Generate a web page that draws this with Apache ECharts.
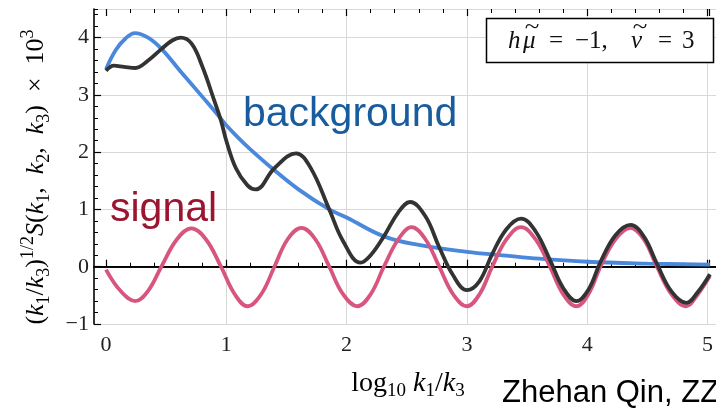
<!DOCTYPE html>
<html>
  <head>
    <meta charset="utf-8" />
    <title>signal vs background</title>
    <script src="https://cdn.jsdelivr.net/npm/echarts@6/dist/echarts.min.js"></script>
    <style>
      * {
        margin: 0;
        padding: 0;
        box-sizing: border-box;
      }
      body {
        background: #fff;
      }
    </style>
  </head>
  <body>
    <div id="main" style="width: 716px; height: 412px"></div>
    <script type="text/javascript">
      // [log10 k1/k3, value x 10^3]
      const backgroundPts = [
        [0, 3.45], [0.08, 3.78], [0.16, 3.98], [0.24, 4.08], [0.35, 4.0],
        [0.463, 3.8], [0.62, 3.41], [0.8, 2.97], [0.93, 2.65], [1.0, 2.47],
        [1.1, 2.25], [1.2, 2.05], [1.38, 1.72], [1.6, 1.35], [1.856, 1.0],
        [2.0, 0.86], [2.31, 0.53], [2.6, 0.38], [3.0, 0.26], [3.3, 0.2],
        [3.6, 0.14], [4.0, 0.087], [4.5, 0.055], [5.02, 0.035],
      ];
      const signalPts = [
        [0, -0.05], [0.12, -0.42], [0.244, -0.6], [0.35, -0.42], [0.46, 0],
        [0.59, 0.48], [0.71, 0.67], [0.83, 0.48], [0.956, 0], [1.07, -0.48],
        [1.176, -0.69], [1.29, -0.48], [1.4, 0], [1.51, 0.48], [1.625, 0.68],
        [1.74, 0.48], [1.856, 0], [1.97, -0.48], [2.09, -0.69], [2.2, -0.48],
        [2.31, 0], [2.43, 0.48], [2.54, 0.69], [2.655, 0.48], [2.77, 0],
        [2.885, -0.48], [3.0, -0.69], [3.105, -0.48], [3.21, 0], [3.33, 0.48],
        [3.45, 0.69], [3.57, 0.48], [3.69, 0], [3.8, -0.48], [3.91, -0.69],
        [4.01, -0.48], [4.11, 0], [4.235, 0.48], [4.36, 0.68], [4.47, 0.48],
        [4.58, 0], [4.7, -0.48], [4.82, -0.69], [4.92, -0.48], [5.02, -0.16],
      ];
      const totalPts = [
        [0, 3.42], [0.066, 3.51], [0.15, 3.49], [0.244, 3.47], [0.35, 3.6],
        [0.46, 3.8], [0.55, 3.95], [0.62, 4.0], [0.71, 3.9], [0.8, 3.5],
        [0.9, 2.9], [0.956, 2.55], [1.0, 2.2], [1.08, 1.72], [1.176, 1.42],
        [1.244, 1.35], [1.4, 1.72], [1.58, 1.98], [1.7, 1.73], [1.856, 1.0],
        [1.97, 0.45], [2.116, 0.07], [2.2, 0.2], [2.31, 0.53], [2.43, 0.95],
        [2.527, 1.13], [2.655, 0.88], [2.77, 0.34], [2.885, -0.15], [3.0, -0.41],
        [3.105, -0.25], [3.21, 0.22], [3.33, 0.66], [3.45, 0.84], [3.57, 0.62],
        [3.69, 0.12], [3.8, -0.37], [3.91, -0.6], [4.01, -0.4], [4.11, 0.08],
        [4.235, 0.55], [4.36, 0.73], [4.47, 0.53], [4.58, 0.05], [4.7, -0.43],
        [4.825, -0.63], [4.92, -0.44], [5.02, -0.13],
      ];
      const zeroLine = [[0, 0], [1, 0]];

      const serif = "Liberation Serif";
      const sans = "Liberation Sans";

      var myChart = echarts.init(document.getElementById("main"));

      const frameAxis = (pos) => ({
        type: "value",
        gridIndex: 0,
        position: pos,
        min: 0,
        max: 1,
        axisLine: { show: true, lineStyle: { color: "#000", width: 1.6 } },
        axisTick: { show: false },
        axisLabel: { show: false },
        splitLine: { show: false },
      });

      const tickAxis = (pos, labels) => ({
        type: "value",
        gridIndex: 1,
        position: pos,
        min: 0,
        max: 5.015,
        interval: 1,
        axisLine: { show: false },
        axisTick: {
          show: true,
          inside: true,
          length: 7,
          lineStyle: { color: "#000", width: 1.2 },
        },
        minorTick: {
          show: true,
          splitNumber: 5,
          length: 4,
          lineStyle: { color: "#000", width: 1 },
        },
        axisLabel: {
          show: labels,
          interval: 0,
          margin: 10,
          fontFamily: serif,
          fontSize: 22,
          color: "#222",
          formatter: (v) => (Number.isInteger(v) ? String(v) : ""),
        },
        splitLine: {
          show: labels,
          showMinLine: false,
          showMaxLine: false,
          lineStyle: { color: "#d8d8d8", width: 1 },
        },
      });

      // box text: pieces placed like TeX spacing
      const boxText = (x, s, italic, align) => ({
        type: "text",
        z: 101,
        x: x,
        y: 41,
        style: {
          text: s,
          fontFamily: serif,
          fontStyle: italic ? "italic" : "normal",
          fontSize: 25,
          fill: "#111",
          align: align || "left",
          verticalAlign: "middle",
        },
      });
      const tilde = (x) => ({
        type: "text",
        z: 101,
        x: x,
        y: 28,
        scaleX: 1.35,
        style: {
          text: "~",
          fontFamily: serif,
          fontSize: 20,
          fill: "#111",
          align: "center",
          verticalAlign: "middle",
        },
      });

      const mathRich = (size, sub) => ({
        n: { fontFamily: serif, fontSize: size, color: "#222", lineHeight: 34 },
        i: { fontFamily: serif, fontStyle: "italic", fontSize: size, color: "#222", lineHeight: 34 },
        sb: { fontFamily: serif, fontSize: sub, color: "#222", verticalAlign: "bottom", lineHeight: 34 },
        sp: { fontFamily: serif, fontSize: sub, color: "#222", verticalAlign: "top", lineHeight: 34 },
      });

      var option = {
        animation: false,
        grid: [
          { left: 94, right: 0, top: 9, bottom: 88 },
          { left: 106, right: 0, top: 9, bottom: 88 },
        ],
        xAxis: [
          frameAxis("bottom"),
          frameAxis("top"),
          tickAxis("bottom", true),
          tickAxis("top", false),
        ],
        yAxis: [
          {
            type: "value",
            gridIndex: 0,
            position: "left",
            min: -1,
            max: 4.5,
            interval: 1,
            axisLine: { show: true, lineStyle: { color: "#000", width: 1.6 } },
            axisTick: {
              show: true,
              inside: true,
              length: 7,
              lineStyle: { color: "#000", width: 1.2 },
            },
            axisLabel: {
              margin: 5,
              fontFamily: serif,
              fontSize: 22,
              color: "#222",
              showMaxLabel: false,
              formatter: (v) =>
                Number.isInteger(v) ? String(v).replace("-", "\u2212") : "",
            },
            splitLine: { show: true, lineStyle: { color: "#d8d8d8", width: 1 } },
          },
          {
            type: "value",
            gridIndex: 0,
            position: "left",
            min: -1,
            max: 4.5,
            interval: 0.2,
            axisLine: { show: false },
            axisTick: {
              show: true,
              inside: true,
              length: 4,
              lineStyle: { color: "#000", width: 1 },
            },
            axisLabel: { show: false },
            splitLine: { show: false },
          },
          {
            type: "value",
            gridIndex: 1,
            min: -1,
            max: 4.5,
            show: false,
          },
        ],
        graphic: [
          {
            type: "text",
            x: 36,
            y: 177,
            rotation: Math.PI / 2,
            style: {
              text:
                "{n|(}{i|k}{sb|1}{n|/}{i|k}{sb|3}{n|)}{sp|1/2}{i|S}{n|(}{i|k}{sb|1}{n|,  }{i|k}{sb|2}{n|,  }{i|k}{sb|3}{n|)  ×  10}{sp|3}",
              align: "center",
              verticalAlign: "middle",
              rich: mathRich(26, 18),
            },
          },
          {
            type: "text",
            x: 408,
            y: 384,
            style: {
              text: "{n|log}{sb|10}{i| k}{sb|1}{n|/}{i|k}{sb|3}",
              align: "center",
              verticalAlign: "middle",
              rich: mathRich(28, 19),
            },
          },
          {
            type: "text",
            x: 502,
            y: 409,
            style: {
              text: "Zhehan Qin, ZZ",
              fontFamily: sans,
              fontSize: 31,
              fill: "#000",
              verticalAlign: "bottom",
            },
          },
          {
            type: "text",
            x: 243,
            y: 94,
            z: 50,
            style: {
              text: "background",
              fontFamily: sans,
              fontSize: 41,
              fill: "#185c9e",
            },
          },
          {
            type: "text",
            x: 110,
            y: 189,
            z: 50,
            style: {
              text: "signal",
              fontFamily: sans,
              fontSize: 41,
              fill: "#9b1530",
            },
          },
          {
            type: "rect",
            z: 100,
            shape: { x: 486.5, y: 18.5, width: 227, height: 44 },
            style: { fill: "#fff", stroke: "#000", lineWidth: 1.5 },
          },
          boxText(508, "h", true),
          boxText(523, "\u03bc", true),
          tilde(532),
          boxText(556, "=", false, "center"),
          boxText(575, "\u22121,", false),
          boxText(631, "\u03bd", true),
          tilde(640),
          boxText(665, "=", false, "center"),
          boxText(682, "3", false),
        ],
        series: [
          {
            name: "zero",
            type: "line",
            xAxisIndex: 0,
            yAxisIndex: 0,
            data: zeroLine,
            symbol: "none",
            silent: true,
            z: 1,
            lineStyle: { color: "#000", width: 1 },
          },
          {
            name: "background",
            type: "line",
            xAxisIndex: 2,
            yAxisIndex: 2,
            data: backgroundPts,
            smooth: 0.4,
            symbol: "none",
            z: 3,
            lineStyle: { color: "#4a88dc", width: 3.8 },
          },
          {
            name: "signal",
            type: "line",
            xAxisIndex: 2,
            yAxisIndex: 2,
            data: signalPts,
            smooth: 0.4,
            symbol: "none",
            z: 4,
            lineStyle: { color: "#d8557e", width: 3.8 },
          },
          {
            name: "total",
            type: "line",
            xAxisIndex: 2,
            yAxisIndex: 2,
            data: totalPts,
            smooth: 0.4,
            symbol: "none",
            z: 5,
            lineStyle: { color: "#333", width: 3.8 },
          },
        ],
      };

      myChart.setOption(option);
    </script>
  </body>
</html>
